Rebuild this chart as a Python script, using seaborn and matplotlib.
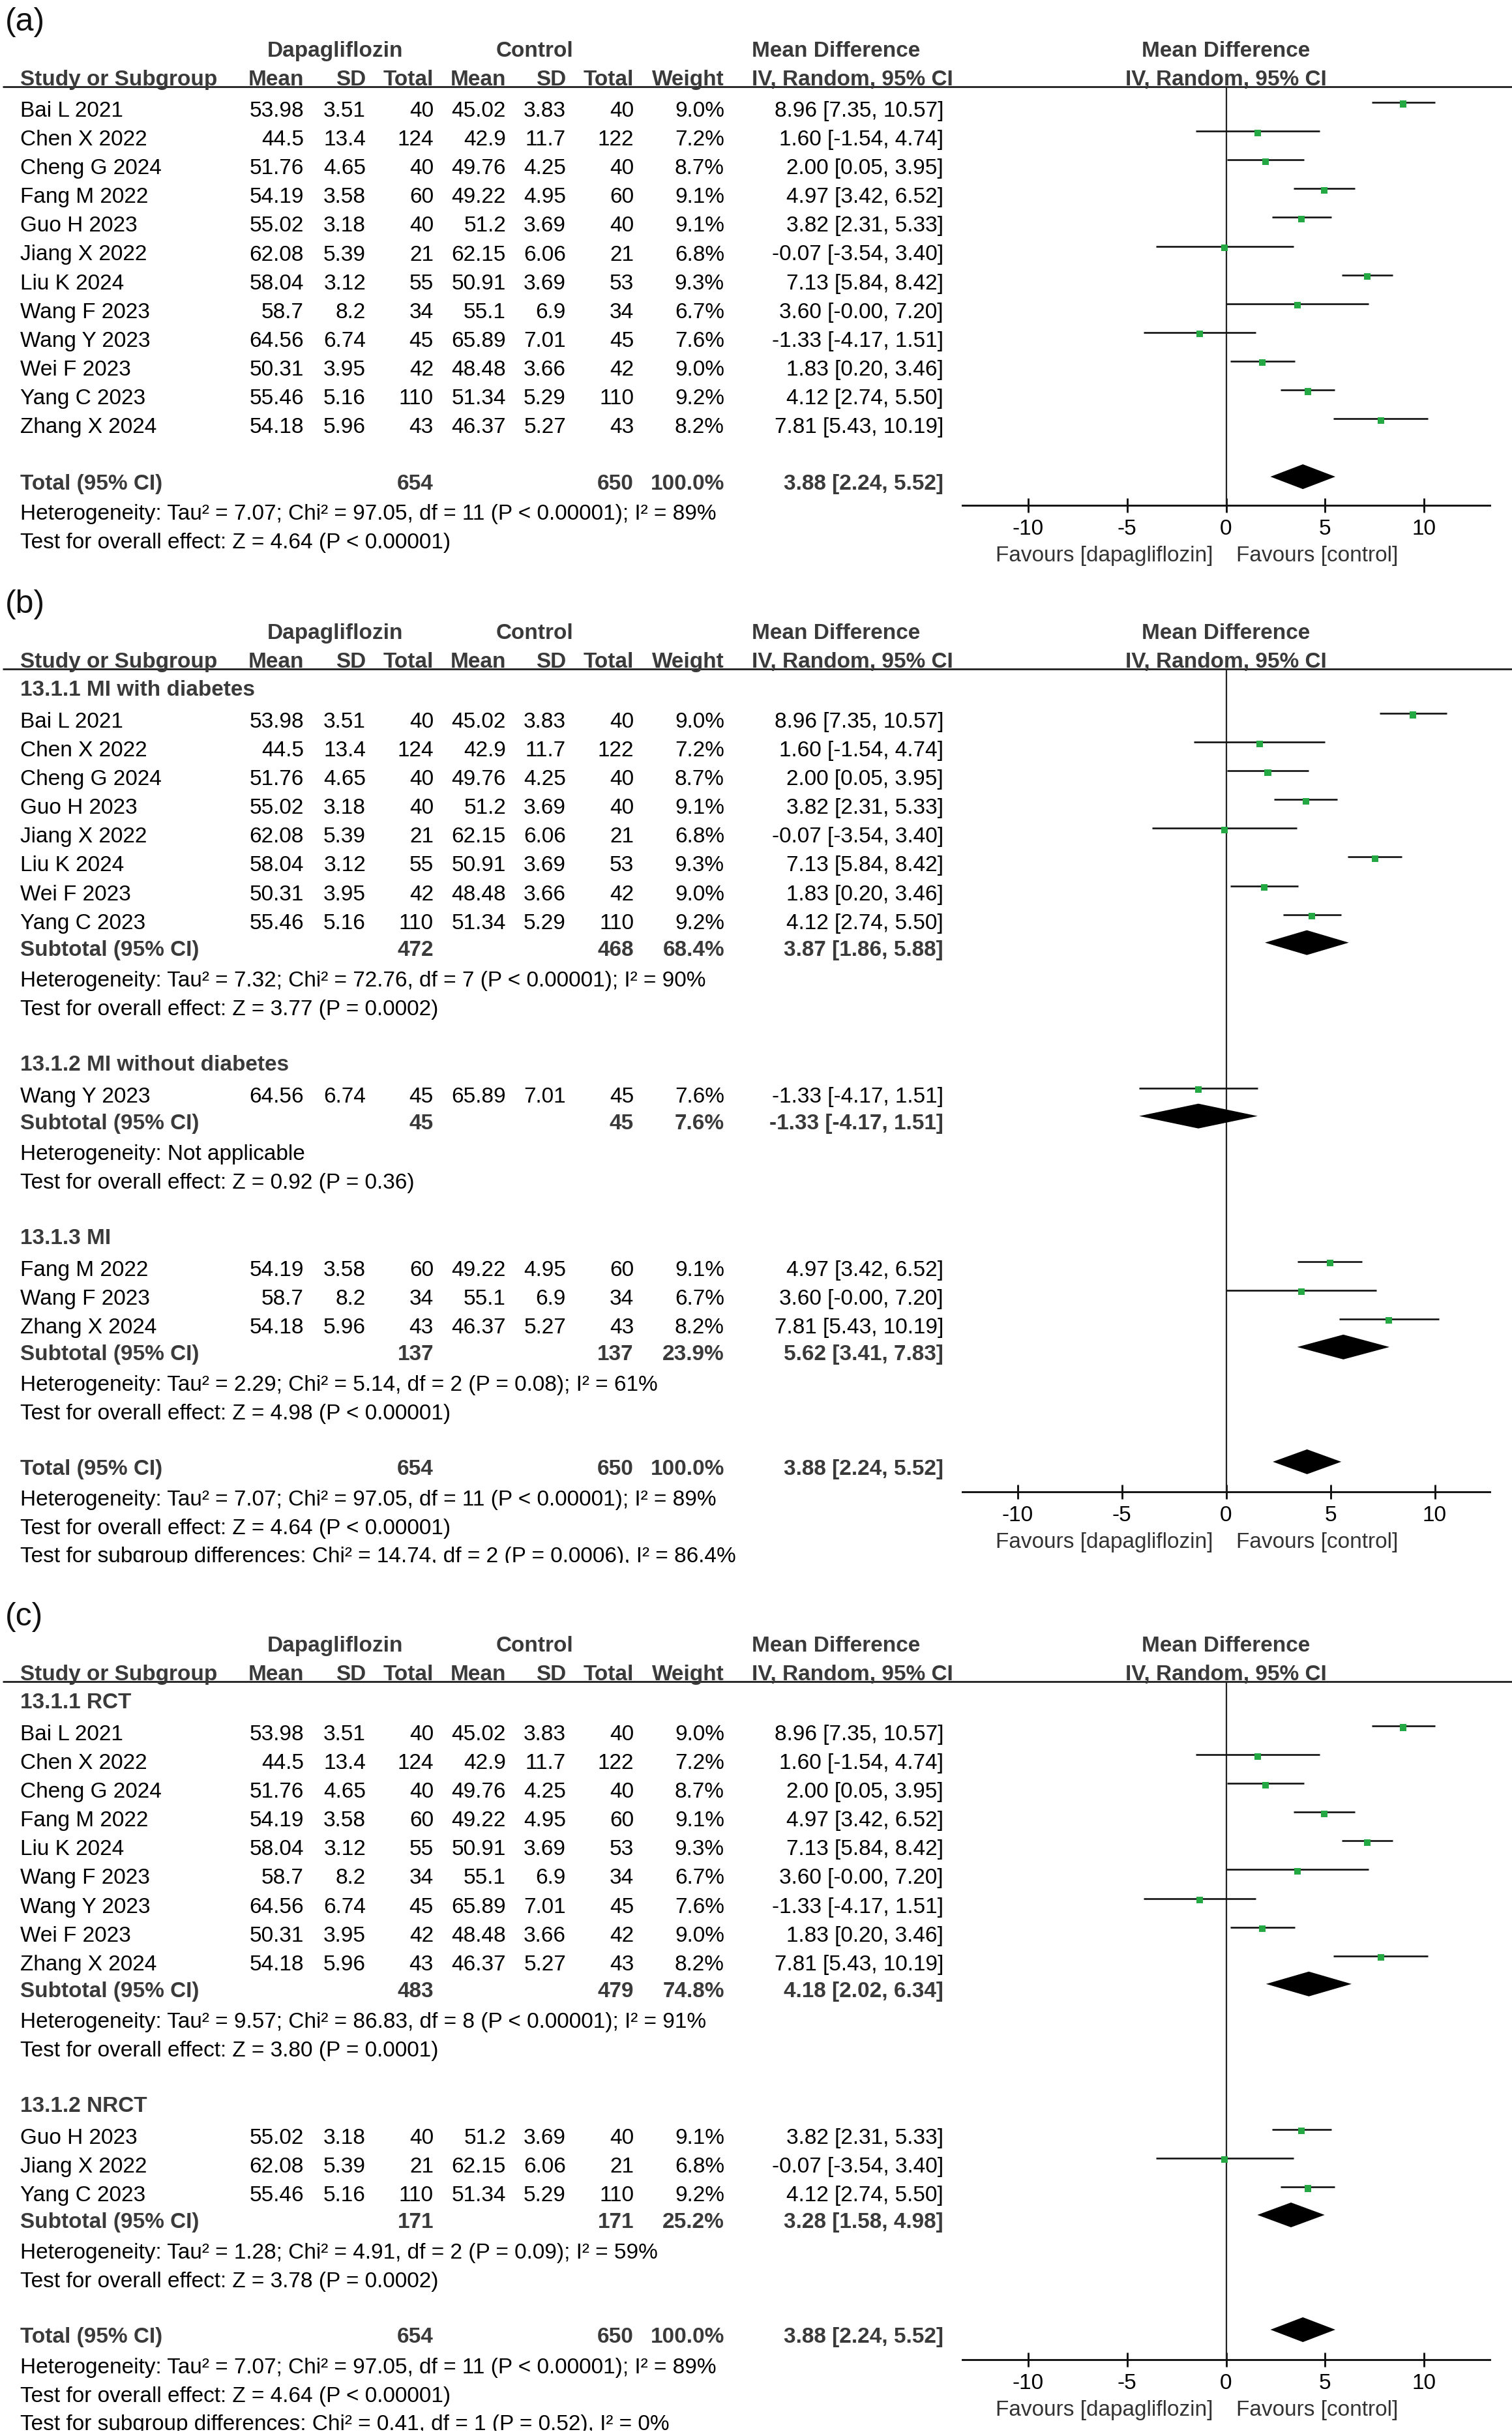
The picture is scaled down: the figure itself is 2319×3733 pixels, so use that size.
import numpy as np
import pandas as pd
import matplotlib
matplotlib.use("Agg")
import matplotlib.pyplot as plt
import seaborn as sns
from matplotlib.patches import Rectangle

# ------------------------------------------------------------------ data
studies = ["Bai L 2021", "Chen X 2022", "Cheng G 2024", "Fang M 2022", "Guo H 2023",
           "Jiang X 2022", "Liu K 2024", "Wang F 2023", "Wang Y 2023", "Wei F 2023",
           "Yang C 2023", "Zhang X 2024"]
dapa_mean = ["53.98", "44.5", "51.76", "54.19", "55.02", "62.08", "58.04", "58.7", "64.56", "50.31", "55.46", "54.18"]
dapa_sd = ["3.51", "13.4", "4.65", "3.58", "3.18", "5.39", "3.12", "8.2", "6.74", "3.95", "5.16", "5.96"]
dapa_n = [40, 124, 40, 60, 40, 21, 55, 34, 45, 42, 110, 43]
ctrl_mean = ["45.02", "42.9", "49.76", "49.22", "51.2", "62.15", "50.91", "55.1", "65.89", "48.48", "51.34", "46.37"]
ctrl_sd = ["3.83", "11.7", "4.25", "4.95", "3.69", "6.06", "3.69", "6.9", "7.01", "3.66", "5.29", "5.27"]
ctrl_n = [40, 122, 40, 60, 40, 21, 53, 34, 45, 42, 110, 43]
weight = [9.0, 7.2, 8.7, 9.1, 9.1, 6.8, 9.3, 6.7, 7.6, 9.0, 9.2, 8.2]
md = [8.96, 1.60, 2.00, 4.97, 3.82, -0.07, 7.13, 3.60, -1.33, 1.83, 4.12, 7.81]
ci_lo = [7.35, -1.54, 0.05, 3.42, 2.31, -3.54, 5.84, -0.0, -4.17, 0.20, 2.74, 5.43]
ci_hi = [10.57, 4.74, 3.95, 6.52, 5.33, 3.40, 8.42, 7.20, 1.51, 3.46, 5.50, 10.19]

# overall pooled result (same in every panel)
total_n = [654, 650]
total_w = 100.0
total_md = [3.88, 2.24, 5.52]
total_het = "Heterogeneity: Tau² = 7.07; Chi² = 97.05, df = 11 (P < 0.00001); I² = 89%"
total_test = "Test for overall effect: Z = 4.64 (P < 0.00001)"

# panel (b): diabetes subgroups
b_groups = ["13.1.1 MI with diabetes", "13.1.2 MI without diabetes", "13.1.3 MI"]
b_members = [["Bai L 2021", "Chen X 2022", "Cheng G 2024", "Guo H 2023", "Jiang X 2022",
              "Liu K 2024", "Wei F 2023", "Yang C 2023"],
             ["Wang Y 2023"],
             ["Fang M 2022", "Wang F 2023", "Zhang X 2024"]]
b_sub_n1 = [472, 45, 137]
b_sub_n2 = [468, 45, 137]
b_sub_w = [68.4, 7.6, 23.9]
b_sub_md = [3.87, -1.33, 5.62]
b_sub_lo = [1.86, -4.17, 3.41]
b_sub_hi = [5.88, 1.51, 7.83]
b_het = ["Heterogeneity: Tau² = 7.32; Chi² = 72.76, df = 7 (P < 0.00001); I² = 90%",
         "Heterogeneity: Not applicable",
         "Heterogeneity: Tau² = 2.29; Chi² = 5.14, df = 2 (P = 0.08); I² = 61%"]
b_test = ["Test for overall effect: Z = 3.77 (P = 0.0002)",
          "Test for overall effect: Z = 0.92 (P = 0.36)",
          "Test for overall effect: Z = 4.98 (P < 0.00001)"]
b_diff = "Test for subgroup differences: Chi² = 14.74, df = 2 (P = 0.0006), I² = 86.4%"

# panel (c): design subgroups
c_groups = ["13.1.1 RCT", "13.1.2 NRCT"]
c_members = [["Bai L 2021", "Chen X 2022", "Cheng G 2024", "Fang M 2022", "Liu K 2024",
              "Wang F 2023", "Wang Y 2023", "Wei F 2023", "Zhang X 2024"],
             ["Guo H 2023", "Jiang X 2022", "Yang C 2023"]]
c_sub_n1 = [483, 171]
c_sub_n2 = [479, 171]
c_sub_w = [74.8, 25.2]
c_sub_md = [4.18, 3.28]
c_sub_lo = [2.02, 1.58]
c_sub_hi = [6.34, 4.98]
c_het = ["Heterogeneity: Tau² = 9.57; Chi² = 86.83, df = 8 (P < 0.00001); I² = 91%",
         "Heterogeneity: Tau² = 1.28; Chi² = 4.91, df = 2 (P = 0.09); I² = 59%"]
c_test = ["Test for overall effect: Z = 3.80 (P = 0.0001)",
          "Test for overall effect: Z = 3.78 (P = 0.0002)"]
c_diff = "Test for subgroup differences: Chi² = 0.41, df = 1 (P = 0.52), I² = 0%"

tick_vals = [-10, -5, 0, 5, 10]
tick_labels = ["-10", "-5", "0", "5", "10"]
fav_left = "Favours [dapagliflozin]"
fav_right = "Favours [control]"

# ------------------------------------------------------------------ style
W, H, DPI = 2319, 3733, 100
sns.set_theme(style="white")
plt.rcParams["font.family"] = ["Liberation Sans", "DejaVu Sans"]
FS = 24
BOLD_C = "#3a3a3a"
TXT_C = "#000000"
GREEN = "#23a844"

fig = plt.figure(figsize=(W / DPI, H / DPI), dpi=DPI)
fig.patch.set_facecolor("white")
tab = fig.add_axes([0, 0, 1, 1])
tab.set_xlim(0, W)
tab.set_ylim(H, 0)
tab.axis("off")

# column anchors (pixels)
X_NAME = 31
X_COLS = [466, 561, 665, 776, 868, 972, 1111, 1447]
X_MDHEAD = 1153
X_DAPA = 514
X_CTRL = 820
X_ZERO = 1880.5
X_AX0, X_AX1 = 1476, 2285
STEP = 44.1
BASE = 11  # text centre -> baseline


def txt(x, y, s, ha="left", bold=False, color=None, size=FS):
    tab.text(x, y + BASE, s, ha=ha, va="baseline", fontsize=size,
             fontweight="bold" if bold else "normal",
             color=color if color else (BOLD_C if bold else TXT_C), zorder=3)


def ci_str(m, lo, hi):
    return f"{m:.2f} [{lo:.2f}, {hi:.2f}]"


def header(label, ul_y):
    tab.text(8, ul_y - 99, label, ha="left", va="center", fontsize=36, color="#111111")
    txt(X_DAPA, ul_y - 57, "Dapagliflozin", ha="center", bold=True)
    txt(X_CTRL, ul_y - 57, "Control", ha="center", bold=True)
    txt(X_MDHEAD, ul_y - 57, "Mean Difference", bold=True)
    heads = ["Mean", "SD", "Total", "Mean", "SD", "Total", "Weight"]
    txt(X_NAME, ul_y - 13, "Study or Subgroup", bold=True)
    for x, h in zip(X_COLS[:-1], heads):
        txt(x, ul_y - 13, h, ha="right", bold=True)
    txt(X_MDHEAD, ul_y - 13, "IV, Random, 95% CI", bold=True)
    tab.plot([4, W], [ul_y, ul_y], color="#1e1e1e", lw=2.0, solid_capstyle="butt", zorder=2)


def study_row(i, y):
    vals = [dapa_mean[i], dapa_sd[i], str(dapa_n[i]), ctrl_mean[i], ctrl_sd[i],
            str(ctrl_n[i]), f"{weight[i]:.1f}%", ci_str(md[i], ci_lo[i], ci_hi[i])]
    txt(X_NAME, y, studies[i])
    for x, v in zip(X_COLS, vals):
        txt(x, y, v, ha="right")


def pooled_row(name, y, n1, n2, w, m, lo, hi):
    txt(X_NAME, y, name, bold=True)
    txt(X_COLS[2], y, str(n1), ha="right", bold=True)
    txt(X_COLS[5], y, str(n2), ha="right", bold=True)
    txt(X_COLS[6], y, f"{w:.1f}%", ha="right", bold=True)
    txt(X_COLS[7], y, ci_str(m, lo, hi), ha="right", bold=True)


def forest_axes(ul_y, axis_y, px_unit):
    ax = fig.add_axes([X_AX0 / W, 1 - axis_y / H, (X_AX1 - X_AX0) / W, (axis_y - ul_y) / H])
    ax.set_xlim((X_AX0 - X_ZERO) / px_unit, (X_AX1 - X_ZERO) / px_unit)
    ax.set_ylim(axis_y, ul_y)
    ax.patch.set_alpha(0)
    for s in ["top", "right", "left"]:
        ax.spines[s].set_visible(False)
    ax.spines["bottom"].set_linewidth(2.1)
    ax.spines["bottom"].set_color("#111111")
    ax.set_yticks([])
    ax.set_xticks(tick_vals)
    ax.set_xticklabels(tick_labels)
    ax.tick_params(axis="x", bottom=True, direction="inout", length=16.5, width=2.1,
                   pad=7, labelsize=FS, colors="#111111", labelcolor="#000000")
    ax.axvline(0, color="#222222", lw=1.6, zorder=1)
    ax.set_xlabel("")
    ax.set_ylabel("")
    ax.grid(False)
    ax.annotate(fav_left, xy=(0, axis_y + 75 + BASE), xycoords="data",
                xytext=(-20, 0), textcoords="offset pixels", ha="right", va="baseline",
                fontsize=FS, color="#333333", annotation_clip=False)
    ax.annotate(fav_right, xy=(0, axis_y + 75 + BASE), xycoords="data",
                xytext=(15, 0), textcoords="offset pixels", ha="left", va="baseline",
                fontsize=FS, color="#333333", annotation_clip=False)
    ax.text(0, ul_y - 57 + BASE, "Mean Difference", ha="center", va="baseline",
            fontsize=FS, fontweight="bold", color=BOLD_C, clip_on=False)
    ax.text(0, ul_y - 13 + BASE, "IV, Random, 95% CI", ha="center", va="baseline",
            fontsize=FS, fontweight="bold", color=BOLD_C, clip_on=False)
    return ax


def draw_marks(ax, idx, ys, diamonds):
    df = pd.DataFrame({"md": [md[i] for i in idx], "lo": [ci_lo[i] for i in idx],
                       "hi": [ci_hi[i] for i in idx], "y": ys})
    ax.hlines(df["y"] - 11, df["lo"], df["hi"], color="#111111", lw=1.9, zorder=3)
    df["ym"] = df["y"] - 8.5
    sns.scatterplot(data=df, x="md", y="ym", marker="s", s=52, color=GREEN,
                    edgecolor="none", linewidth=0, ax=ax, legend=False, zorder=4)
    for (m, lo, hi, y) in diamonds:
        yc = y - 9
        ax.fill([lo, m, hi, m], [yc, yc - 19, yc, yc + 19], color="black", lw=0, zorder=4)
    ax.set_xlabel("")
    ax.set_ylabel("")


# ------------------------------------------------------------------ panel (a)
ul = 133
header("(a)", ul)
ys = []
y = ul + 35
for i in range(len(studies)):
    study_row(i, y)
    ys.append(y)
    y += STEP
y_tot = ys[-1] + 87
pooled_row("Total (95% CI)", y_tot, total_n[0], total_n[1], total_w, *total_md)
txt(X_NAME, y_tot + 46, total_het)
txt(X_NAME, y_tot + 90, total_test)
ax_a = forest_axes(ul, y_tot + 35, 30.35)
draw_marks(ax_a, list(range(len(studies))), ys, [(total_md[0], total_md[1], total_md[2], y_tot)])


# ------------------------------------------------------------------ subgroup panels
def subgroup_panel(label, ul, groups, members, n1, n2, w, smd, slo, shi, het, test, diff, px_unit):
    header(label, ul)
    idx_all, ys_all, dia = [], [], []
    y = ul + 30
    for g in range(len(groups)):
        txt(X_NAME, y, groups[g], bold=True)
        y += 49
        for k, name in enumerate(members[g]):
            i = studies.index(name)
            study_row(i, y)
            idx_all.append(i)
            ys_all.append(y)
            if k < len(members[g]) - 1:
                y += STEP
        y += 41
        pooled_row("Subtotal (95% CI)", y, n1[g], n2[g], w[g], smd[g], slo[g], shi[g])
        dia.append((smd[g], slo[g], shi[g], y))
        y += 47
        txt(X_NAME, y, het[g])
        y += 44
        txt(X_NAME, y, test[g])
        y += 85
    y_tot = y
    pooled_row("Total (95% CI)", y_tot, total_n[0], total_n[1], total_w, *total_md)
    dia.append((total_md[0], total_md[1], total_md[2], y_tot))
    txt(X_NAME, y_tot + 47, total_het)
    txt(X_NAME, y_tot + 91, total_test)
    txt(X_NAME, y_tot + 134, diff)
    ax = forest_axes(ul, y_tot + 37, px_unit)
    draw_marks(ax, idx_all, ys_all, dia)
    # each panel image is cropped just under its last text line
    tab.add_patch(Rectangle((0, y_tot + 134 + BASE + 1), 1500, 40, facecolor="white",
                            edgecolor="none", zorder=10))
    return y_tot + 134


subgroup_panel("(b)", 1026, b_groups, b_members, b_sub_n1, b_sub_n2, b_sub_w,
               b_sub_md, b_sub_lo, b_sub_hi, b_het, b_test, b_diff, 32.0)

subgroup_panel("(c)", 2579, c_groups, c_members, c_sub_n1, c_sub_n2, c_sub_w,
               c_sub_md, c_sub_lo, c_sub_hi, c_het, c_test, c_diff, 30.35)

fig.savefig("out.png", dpi=DPI, facecolor="white")
